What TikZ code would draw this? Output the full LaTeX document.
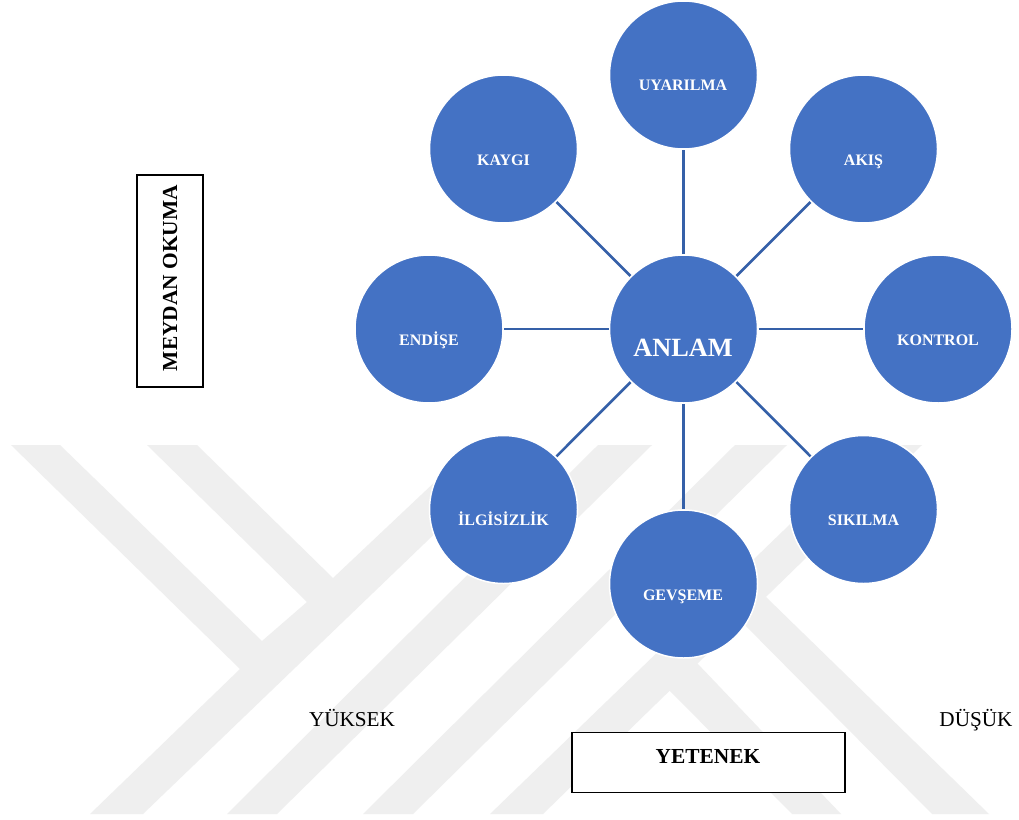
\documentclass[tikz,border=0pt]{standalone}
\usepackage{fontspec}
\setmainfont{Liberation Serif}
\definecolor{wm}{HTML}{EFEFEF}
\definecolor{circ}{HTML}{4472C4}
\definecolor{conn}{HTML}{3560A8}
\tikzset{
  mark band/.style={fill=wm,draw=none},
  circ node/.style={circle,fill=circ,draw=white,line width=1.5pt,minimum size=148pt,inner sep=0pt,outer sep=0pt},
  conn line/.style={draw=conn,line width=2.6pt,shorten <=1pt,shorten >=1pt},
  small label/.style={anchor=base,text=white,inner sep=0pt,font=\fontsize{16}{18}\selectfont\bfseries},
  big label/.style={anchor=base,text=white,inner sep=0pt,font=\fontsize{26.3}{30}\selectfont\bfseries},
  axis box/.style={draw=black,line width=1.8pt,fill=white,inner sep=0pt,outer sep=0pt},
  axis title/.style={anchor=base,text=black,inner sep=0pt,font=\fontsize{21.4}{24}\selectfont\bfseries},
  axis end/.style={anchor=base,text=black,inner sep=0pt,font=\fontsize{21.2}{24}\selectfont}
}
\begin{document}
\begin{tikzpicture}[x=1pt,y=-1pt]
\useasboundingbox (0,0) rectangle (1019,819);
\fill[white] (0,0) rectangle (1019,819);
% watermark
\path[mark band] (11,445) -- (60,445) -- (262,641) -- (307,602) -- (147,445) -- (197,445) -- (333,578) -- (474,445) -- (527,445) -- (143,814) -- (90,814) -- (240,669) -- cycle;
\path[mark band] (598,445) -- (652,445) -- (277,814) -- (227,814) -- cycle;
\path[mark band] (735,445) -- (787,445) -- (413,814) -- (363,814) -- cycle;
\path[mark band] (872,445) -- (922,445) -- (543,814) -- (490,814) -- cycle;
\path[mark band] (669,690) -- (697,663) -- (841,814) -- (792,814) -- cycle;
\path[mark band] (735,615) -- (766,597) -- (989,814) -- (932,814) -- cycle;
% circles
\node[circ node] (anlam) at (683.5,329) {};
\node[circ node] (uyarilma) at (683.5,75) {};
\node[circ node] (kaygi) at (503.5,149) {};
\node[circ node] (akis) at (863.5,149) {};
\node[circ node] (endise) at (429,329) {};
\node[circ node] (kontrol) at (938,329) {};
\node[circ node] (ilgisizlik) at (503.5,509.5) {};
\node[circ node] (sikilma) at (863.5,509.5) {};
\node[circ node] (gevseme) at (683.5,584) {};
% connectors
\foreach \other in {uyarilma,kaygi,akis,endise,kontrol,ilgisizlik,sikilma,gevseme}
  \draw[conn line] (anlam) -- (\other);
% circle labels
\node[big label] (tanlam) at (683,356) {ANLAM};
\node[small label] (tuyarilma) at (683,90) {UYARILMA};
\node[small label] (tkaygi) at (503.5,165) {KAYGI};
\node[small label] (takis) at (863.5,165) {AKIŞ};
\node[small label] (tendise) at (429,345) {ENDİŞE};
\node[small label] (tkontrol) at (938,345) {KONTROL};
\node[small label] (tilgisizlik) at (503.5,525) {İLGİSİZLİK};
\node[small label] (tsikilma) at (863.5,525) {SIKILMA};
\node[small label] (tgevseme) at (683,600) {GEVŞEME};
% axis boxes
\node[axis box,minimum width=273pt,minimum height=60pt] (yetenekbox) at (708.5,762.5) {};
\node[axis title] (yetenek) at (708,763) {YETENEK};
\node[axis box,minimum width=66pt,minimum height=212pt] (meydanbox) at (170,281) {};
\node[axis title,rotate=90] (meydan) at (177,278) {MEYDAN OKUMA};
% axis ends
\node[axis end] (yuksek) at (352,726) {YÜKSEK};
\node[axis end] (dusuk) at (976,726) {DÜŞÜK};
\end{tikzpicture}
\end{document}
